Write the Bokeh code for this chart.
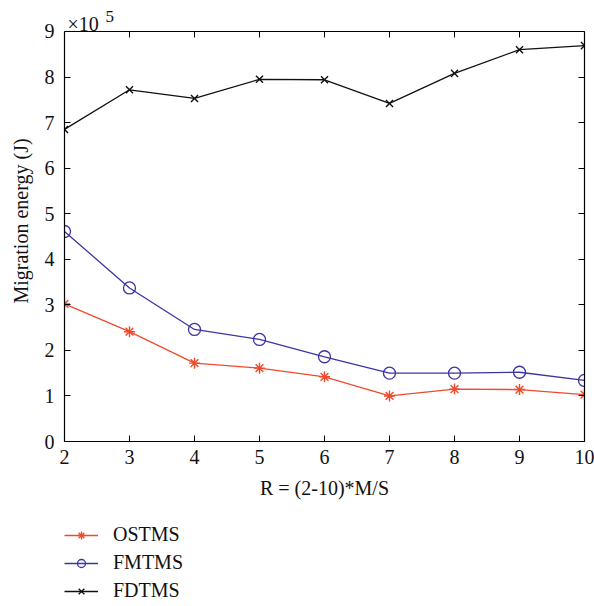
import math
from bokeh.plotting import figure
from bokeh.layouts import column
from bokeh.models import (Range1d, FixedTicker, LinearAxis, Legend, LegendItem, Label,
                          CustomJSTickFormatter, Span)
from bokeh.embed import file_html
from bokeh.resources import INLINE

# Data (migration energy in units of 1e5 J)
R = [2, 3, 4, 5, 6, 7, 8, 9, 10]
ostms = [3.02, 2.41, 1.72, 1.61, 1.42, 1.00, 1.15, 1.14, 1.03]
fmtms = [4.61, 3.37, 2.46, 2.24, 1.86, 1.50, 1.50, 1.52, 1.34]
fdtms = [6.85, 7.72, 7.53, 7.95, 7.94, 7.42, 8.08, 8.60, 8.69]
series_names = ["OSTMS", "FMTMS", "FDTMS"]
x_ticks = [2, 3, 4, 5, 6, 7, 8, 9, 10]
y_ticks = [0, 1, 2, 3, 4, 5, 6, 7, 8, 9]
Y_MAX = 9

FONT = "Liberation Serif"
FS = "20px"
RED = "#F04A2C"
BLUE = "#3B36A3"
BLACK = "#111111"
TXT = "#111111"

# ---- main plot (frame extends above the axes box to hold the exponent) ----
p = figure(width=594, height=510, output_backend="svg", toolbar_location=None,
           x_range=Range1d(2, 10), y_range=Range1d(0, 9.68),
           min_border_left=64, min_border_right=10, min_border_top=0,
           min_border_bottom=69, background_fill_color="white",
           border_fill_color="white")
p.grid.visible = False
p.outline_line_color = None

for ax in [p.xaxis[0], p.yaxis[0]]:
    ax.major_tick_in = 6
    ax.major_tick_out = 0
    ax.minor_tick_in = 0
    ax.minor_tick_out = 0
    ax.axis_line_color = "black"
    ax.axis_line_width = 1.2
    ax.major_label_text_font = FONT
    ax.major_label_text_font_size = FS
    ax.major_label_text_color = TXT
    ax.axis_label_text_font = FONT
    ax.axis_label_text_font_size = FS
    ax.axis_label_text_font_style = "normal"
    ax.axis_label_text_color = TXT

p.xaxis[0].ticker = FixedTicker(ticks=x_ticks)
p.yaxis[0].ticker = FixedTicker(ticks=y_ticks)
p.yaxis[0].bounds = (0, Y_MAX)
p.xaxis[0].axis_label = "R = (2-10)*M/S"
p.yaxis[0].axis_label = "Migration energy (J)"
p.xaxis[0].major_label_standoff = 8
p.yaxis[0].major_label_standoff = 10
p.xaxis[0].axis_label_standoff = 10
p.yaxis[0].axis_label_standoff = 10

# right side of the box with inward ticks
blank = CustomJSTickFormatter(code="return ''")
right = LinearAxis(ticker=FixedTicker(ticks=y_ticks), formatter=blank, bounds=(0, Y_MAX),
                   major_label_standoff=0, major_label_text_font_size="1px",
                   major_tick_in=6, major_tick_out=0, minor_tick_in=0, minor_tick_out=0,
                   axis_line_color="black", axis_line_width=1.2)
p.add_layout(right, "right")

# top side of the box with inward ticks
p.add_layout(Span(location=Y_MAX, dimension="width", line_color="black", line_width=1.2))
p.ray(x=x_ticks, y=[Y_MAX] * len(x_ticks), length=6, length_units="screen",
      angle=-math.pi / 2, line_color="black", line_width=1)

p.line(R, ostms, line_color=RED, line_width=1.3)
p.scatter(R, ostms, marker="asterisk", size=11, line_color=RED, line_width=1.4)
p.line(R, fmtms, line_color=BLUE, line_width=1.3)
p.scatter(R, fmtms, marker="circle", size=12, line_color=BLUE, fill_color=None, line_width=1.3)
p.line(R, fdtms, line_color=BLACK, line_width=1.3)
p.scatter(R, fdtms, marker="x", size=10, line_color=BLACK, line_width=1.4)

# exponent of the y axis
p.add_layout(Label(x=2, y=9.16, x_offset=3, text="×10", text_font=FONT,
                   text_font_size=FS, text_baseline="alphabetic", text_color=TXT))
p.add_layout(Label(x=2, y=9.32, x_offset=41, text="5", text_font=FONT,
                   text_font_size="17px", text_baseline="alphabetic", text_color=TXT))

# ---- legend panel ----
leg = figure(width=594, height=96, output_backend="svg", toolbar_location=None,
             x_range=Range1d(0, 1), y_range=Range1d(0, 1),
             x_axis_location=None, y_axis_location=None, min_border=0,
             background_fill_color="white", border_fill_color="white")
leg.grid.visible = False
leg.outline_line_color = None
styles = [(RED, "asterisk", 11), (BLUE, "circle", 13), (BLACK, "x", 10)]
items = []
for name, (col, mk, sz) in zip(series_names, styles):
    lr = leg.line([-5, -4], [-5, -4], line_color=col, line_width=1.3)
    mr = leg.scatter([-5], [-5], marker=mk, size=sz, line_color=col, fill_color=None,
                     line_width=1.3)
    items.append(LegendItem(label=name, renderers=[lr, mr]))
legend = Legend(items=items, orientation="vertical", location=(0, 4),
                label_text_font=FONT, label_text_font_size=FS, label_text_color=TXT,
                glyph_width=34, glyph_height=20, label_height=20,
                label_standoff=15, spacing=5, padding=0, margin=0,
                border_line_color=None, background_fill_alpha=0)
leg.add_layout(legend, "center")

layout = column(p, leg, spacing=0)
open("out.html", "w").write(file_html(layout, INLINE))
